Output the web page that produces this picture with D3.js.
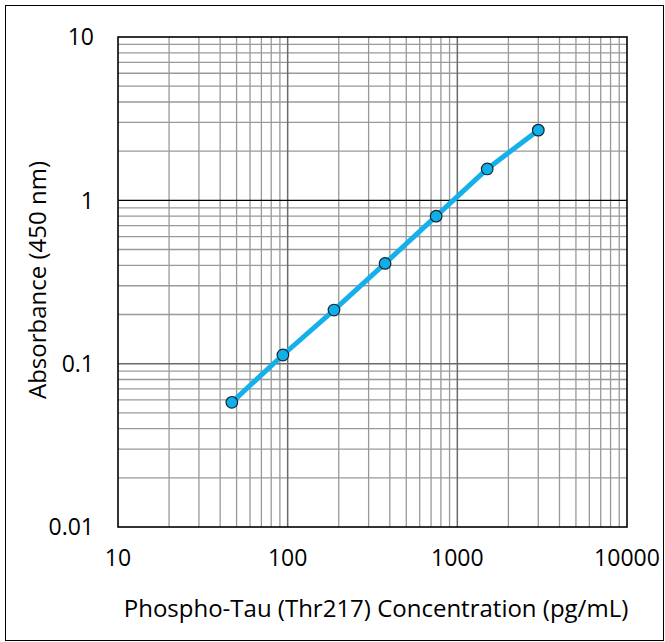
<!DOCTYPE html>
<html><head><meta charset="utf-8">
<script src="https://cdn.jsdelivr.net/npm/d3@7"></script>
<style>body{margin:0;background:#fff;} svg{display:block;} text{font-family:"Open Sans",sans-serif;fill:#000;}</style>
</head><body><svg id="c" width="665" height="642"></svg>
<script>
const concentrations = [46.875, 93.75, 187.5, 375, 750, 1500, 3000];
const absorbance = [0.058, 0.113, 0.213, 0.411, 0.80, 1.556, 2.69];
const xTicks = [10, 100, 1000, 10000];
const yTicks = [0.01, 0.1, 1, 10];
const xTickLabels = ["10", "100", "1000", "10000"];
const yTickLabels = ["0.01", "0.1", "1", "10"];
const xTitle = "Phospho-Tau (Thr217) Concentration (pg/mL)";
const yTitle = "Absorbance (450 nm)";

const svg = d3.select("#c");
svg.append("rect").attr("x",5.5).attr("y",5.5).attr("width",658).attr("height",635)
  .attr("fill","#fff").attr("stroke","#000").attr("stroke-width",1);

const L=118, R=627, T=37, B=527;
const x = d3.scaleLog().domain([10,10000]).range([L,R]);
const y = d3.scaleLog().domain([0.01,10]).range([B,T]);

const minorX=[], minorY=[];
for (let d=10; d<10000; d*=10) for (let k=2;k<=9;k++) minorX.push(d*k);
for (let d=0.01; d<10; d*=10) for (let k=2;k<=9;k++) minorY.push(+(d*k).toPrecision(3));
const g = svg.append("g");
g.selectAll(".mx").data(minorX).join("line")
  .attr("x1",d=>x(d)).attr("x2",d=>x(d)).attr("y1",T).attr("y2",B)
  .attr("stroke","#999").attr("stroke-width",1.3);
g.selectAll(".my").data(minorY).join("line")
  .attr("y1",d=>y(d)).attr("y2",d=>y(d)).attr("x1",L).attr("x2",R)
  .attr("stroke","#999").attr("stroke-width",1.3);
g.selectAll(".Mx").data(xTicks.slice(1,-1)).join("line")
  .attr("x1",d=>x(d)).attr("x2",d=>x(d)).attr("y1",T).attr("y2",B)
  .attr("stroke","#6a6a6a").attr("stroke-width",1.5);
g.selectAll(".My").data([0.1]).join("line")
  .attr("y1",d=>y(d)).attr("y2",d=>y(d)).attr("x1",L).attr("x2",R)
  .attr("stroke","#6a6a6a").attr("stroke-width",1.5);
g.append("line").attr("x1",L).attr("x2",R).attr("y1",y(1)).attr("y2",y(1))
  .attr("stroke","#000").attr("stroke-width",1.3);
svg.append("rect").attr("x",L).attr("y",T).attr("width",R-L).attr("height",B-T)
  .attr("fill","none").attr("stroke","#000").attr("stroke-width",1.6);

svg.selectAll(".xl").data(xTicks).join("text")
  .attr("x",d=>x(d)).attr("y",566).attr("text-anchor","middle")
  .attr("font-size",23).text((d,i)=>xTickLabels[i]);
svg.selectAll(".yl").data(yTicks).join("text")
  .attr("x",94).attr("y",d=>y(d)+8.2).attr("text-anchor","end")
  .attr("font-size",23).text((d,i)=>yTickLabels[i]);

svg.append("text").attr("x",376).attr("y",617).attr("text-anchor","middle")
  .attr("font-size",24).text(xTitle);
svg.append("text").attr("transform","translate(46,280) rotate(-90)")
  .attr("text-anchor","middle").attr("font-size",24).text(yTitle);

const data = concentrations.map((c,i)=>({c, a:absorbance[i]}));
svg.append("path").datum(data)
  .attr("d", d3.line().x(d=>x(d.c)).y(d=>y(d.a)))
  .attr("fill","none").attr("stroke","#13b0ea").attr("stroke-width",5);
svg.selectAll(".pt").data(data).join("circle")
  .attr("cx",d=>x(d.c)).attr("cy",d=>y(d.a)).attr("r",5.8)
  .attr("fill","#0fb0ea").attr("stroke","#1a2530").attr("stroke-width",1.2);
</script></body></html>
